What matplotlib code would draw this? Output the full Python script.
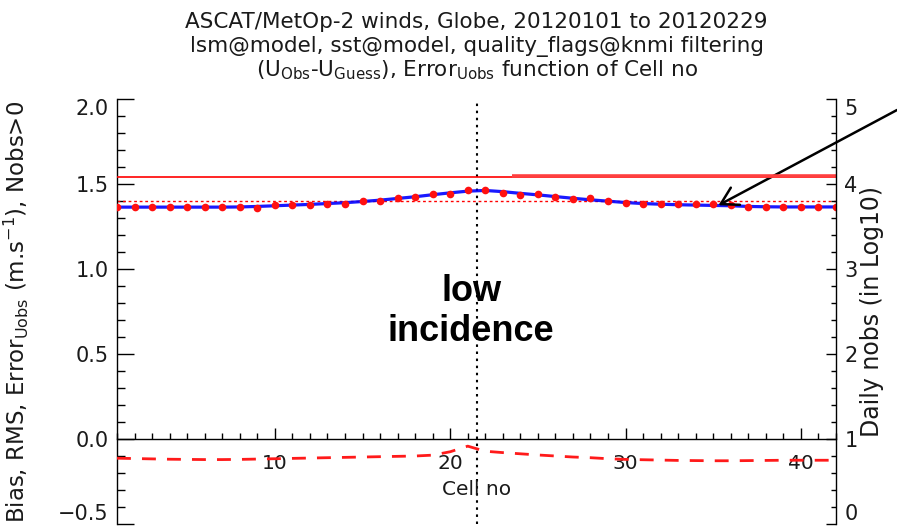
import numpy as np
import matplotlib
matplotlib.use("Agg")
import matplotlib.pyplot as plt
from matplotlib.ticker import MultipleLocator, FixedLocator

plt.rcParams['font.family'] = ['DejaVu Sans']
plt.rcParams['mathtext.default'] = 'regular'

# ---------------- data ----------------
cells = list(range(1, 43))

rms = [1.366, 1.366, 1.364, 1.364, 1.363, 1.362, 1.362, 1.362, 1.360, 1.375,
       1.378, 1.376, 1.385, 1.383, 1.402, 1.400, 1.418, 1.425, 1.444, 1.442,
       1.464, 1.465, 1.449, 1.435, 1.441, 1.425, 1.414, 1.416, 1.402, 1.390,
       1.380, 1.380, 1.382, 1.382, 1.382, 1.378, 1.362, 1.362, 1.362, 1.366,
       1.366, 1.366]

error_uobs = [1.364, 1.364, 1.364, 1.364, 1.364, 1.364, 1.364, 1.365, 1.368, 1.372,
              1.376, 1.380, 1.385, 1.390, 1.397, 1.405, 1.415, 1.425, 1.437, 1.448,
              1.458, 1.462, 1.455, 1.445, 1.436, 1.426, 1.416, 1.407, 1.399, 1.391,
              1.385, 1.381, 1.378, 1.376, 1.374, 1.372, 1.368, 1.366, 1.365, 1.365,
              1.365, 1.365]

bias = [-0.113, -0.115, -0.117, -0.119, -0.120, -0.121, -0.121, -0.120, -0.118, -0.116,
        -0.114, -0.112, -0.110, -0.108, -0.106, -0.104, -0.102, -0.100, -0.095, -0.075,
        -0.042, -0.072, -0.080, -0.087, -0.094, -0.100, -0.106, -0.110, -0.116, -0.120,
        -0.122, -0.124, -0.126, -0.127, -0.128, -0.128, -0.127, -0.126, -0.125, -0.125,
        -0.125, -0.125]

rms_reference = 1.40          # dotted red reference level
daily_nobs_log10 = [4.086, 4.097]   # two levels of the daily nobs line
daily_nobs_from_cell = [1, 23.5]
nadir_cell = 21.5
arrow_cell, arrow_value = 35.3, 1.375

x_ticks = [10, 20, 30, 40]
left_ticks = [-0.5, 0.0, 0.5, 1.0, 1.5, 2.0]
right_ticks = [0, 1, 2, 3, 4, 5]

title_lines = ["ASCAT/MetOp-2 winds, Globe, 20120101 to 20120229",
               "lsm@model, sst@model, quality_flags@knmi filtering",
               r"(U$_{Obs}$-U$_{Guess}$), Error$_{Uobs}$ function of Cell no"]

# ---------------- figure ----------------
W, H = 897, 529
fig = plt.figure(figsize=(W / 100, H / 100), dpi=100)
ax = fig.add_axes([117 / W, 5 / H, 719 / W, 425 / H])
ax.set_xlim(1, 42)
ax.set_ylim(-0.5, 2.0)
ax2 = ax.twinx()
ax2.set_ylim(0, 5)

txtc = '#1a1a1a'

# spines
ax.spines['top'].set_visible(False)
ax.spines['right'].set_visible(False)
ax.spines['bottom'].set_position(('data', 0))
for s in ['top', 'bottom', 'left']:
    ax2.spines[s].set_visible(False)
for s in [ax.spines['left'], ax.spines['bottom'], ax2.spines['right']]:
    s.set_linewidth(1.0)
    s.set_color('black')

# ticks
ax.xaxis.set_major_locator(FixedLocator(x_ticks))
ax.xaxis.set_minor_locator(MultipleLocator(1))
ax.yaxis.set_major_locator(FixedLocator(left_ticks))
ax.yaxis.set_minor_locator(MultipleLocator(0.1))
ax2.yaxis.set_major_locator(FixedLocator(right_ticks))
ax2.yaxis.set_minor_locator(MultipleLocator(0.2))

ax.tick_params(axis='x', which='major', direction='in', length=8, width=1, pad=11,
               labelsize=14.5, labelcolor=txtc)
ax.tick_params(axis='x', which='minor', direction='in', length=4.5, width=1)
ax.tick_params(axis='y', which='major', direction='in', length=12, width=1, pad=6,
               labelsize=15, labelcolor=txtc, right=False)
ax.tick_params(axis='y', which='minor', direction='in', length=6, width=1, right=False)
ax2.tick_params(axis='y', which='major', direction='in', length=7, width=1, pad=6,
                labelsize=15, labelcolor=txtc)
ax2.tick_params(axis='y', which='minor', direction='in', length=3.6, width=1)

# end labels kept inside the axis range (IDL style)
for axis in (ax.yaxis, ax2.yaxis):
    ticks = axis.get_major_ticks()
    ticks[0].label1.set_verticalalignment('bottom')
    ticks[0].label2.set_verticalalignment('bottom')
    ticks[-1].label1.set_verticalalignment('top')
    ticks[-1].label2.set_verticalalignment('top')

# ---------------- marks ----------------
ax.axvline(nadir_cell, color='black', ls=(0, (1.2, 2.2)), lw=1.5, zorder=1)
ax.axhline(rms_reference, color='red', ls=(0, (2, 2)), lw=1.0, zorder=2)
ax.plot(cells, error_uobs, color='#0000ff', lw=2.3, alpha=0.9, zorder=3)
ax.plot(cells, rms, ls='none', marker='o', ms=5.5, mfc='#ff1010', mec='#ff1010',
        mew=0, zorder=4)
ax.plot(cells, bias, color='#ff1a1a', lw=2.0, ls=(0, (5, 4)), zorder=3)

ax2.hlines(daily_nobs_log10[0], daily_nobs_from_cell[0], 42, color='#ff0000', lw=1.2)
ax2.hlines(daily_nobs_log10[1], daily_nobs_from_cell[1], 42, color='#ff4040', lw=2.6)

# ---------------- text ----------------
baselines = [28, 52, 76]
for line, yb in zip(title_lines, baselines):
    fig.text(476.5 / W, 1 - yb / H, line, ha='center', va='baseline',
             fontsize=15.5, color=txtc)

ax.set_xlabel('Cell no', fontsize=14.5, color=txtc, labelpad=5)
ax.set_ylabel(r'Bias, RMS, Error$_{Uobs}$ (m.s$^{-1}$), Nobs>0', fontsize=16.5,
              color=txtc)
ax.yaxis.set_label_coords((31 - 117) / 719, 0.5)
ax2.set_ylabel('Daily nobs (in Log10)', fontsize=17, color=txtc)
ax2.yaxis.set_label_coords((860 - 117) / 719, 0.5)

ax.text(21.2, 0.75, 'low\nincidence', ha='center', va='center', fontsize=26,
        fontweight='bold', family='Liberation Sans', color='black', zorder=5)

ax.annotate('', xy=(arrow_cell, arrow_value), xycoords='data',
            xytext=(1.0, 1 - 110 / H), textcoords='figure fraction',
            arrowprops=dict(arrowstyle='->,head_length=0.6,head_width=0.35',
                            mutation_scale=20, lw=1.8, color='black',
                            shrinkA=0, shrinkB=0),
            annotation_clip=False, zorder=6)

fig.savefig('out.png', dpi=100)
